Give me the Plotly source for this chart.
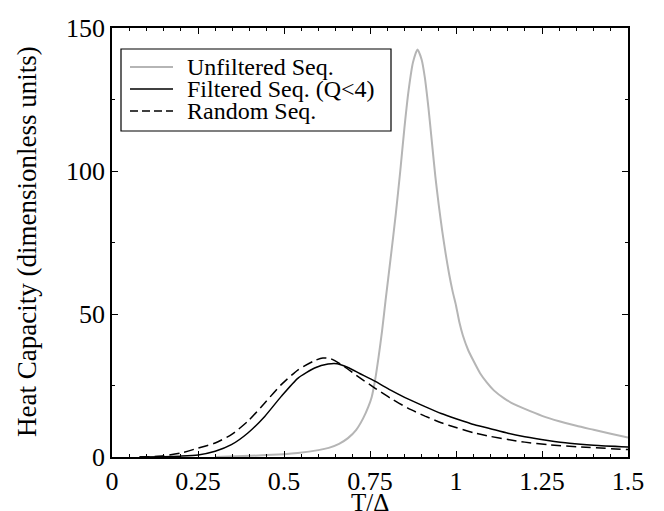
import plotly.graph_objects as go

# Unfiltered sequences (gray)
t_unf = [0.30, 0.40, 0.50, 0.54, 0.60, 0.63, 0.66, 0.686, 0.71, 0.73, 0.745, 0.755, 0.765,
         0.775, 0.785, 0.795, 0.81, 0.825, 0.838, 0.85, 0.862, 0.875, 0.888, 0.90, 0.909,
         0.92, 0.93, 0.94, 0.95, 0.96, 0.97, 0.98, 0.99, 1.00, 1.01, 1.02, 1.035, 1.05,
         1.07, 1.09, 1.11, 1.14, 1.17, 1.20, 1.25, 1.30, 1.35, 1.40, 1.45, 1.50]
c_unf = [0.0, 0.4, 1.0, 1.4, 2.4, 3.2, 4.6, 6.6, 9.5, 13.5, 17.5, 21.0, 27.0,
         35.0, 44.0, 54.5, 69.5, 85.0, 100.0, 115.0, 128.0, 138.0, 142.5, 139.0, 133.0,
         122.0, 110.0, 98.0, 88.0, 79.0, 71.0, 64.0, 58.0, 53.0, 47.0, 42.5, 37.5, 33.8,
         29.3, 26.0, 23.3, 20.5, 18.4, 16.8, 14.4, 12.5, 10.9, 9.5, 8.1, 6.8]

# Filtered sequences (Q<4), solid black
t_fil = [0.08, 0.15, 0.20, 0.25, 0.30, 0.347, 0.395, 0.444, 0.492, 0.541, 0.589, 0.628,
         0.655, 0.686, 0.72, 0.764, 0.81, 0.86, 0.91, 0.957, 1.0, 1.054, 1.10, 1.151,
         1.20, 1.267, 1.33, 1.40, 1.50]
c_fil = [0.0, 0.1, 0.3, 0.7, 2.0, 4.3, 8.4, 14.2, 21.2, 27.6, 31.1, 32.5,
         32.6, 31.3, 29.2, 26.5, 23.4, 20.3, 17.6, 15.2, 13.4, 11.3, 9.9, 8.3,
         7.1, 5.8, 4.8, 4.1, 3.5]

# Random sequences, dashed black
t_rnd = [0.08, 0.15, 0.20, 0.25, 0.30, 0.347, 0.395, 0.444, 0.492, 0.541, 0.589, 0.613,
         0.635, 0.667, 0.71, 0.764, 0.81, 0.86, 0.91, 0.957, 1.0, 1.054, 1.10, 1.151,
         1.20, 1.267, 1.364, 1.50]
c_rnd = [0.0, 0.4, 1.4, 3.1, 4.9, 7.8, 12.5, 18.9, 25.3, 30.5, 33.7, 34.6,
         34.4, 32.3, 28.6, 24.1, 20.5, 17.1, 14.3, 12.0, 10.3, 8.4, 7.2, 6.1,
         5.2, 4.3, 3.5, 2.6]

series_names = ["Unfiltered Seq.", "Filtered Seq. (Q<4)", "Random Seq."]

x_ticks = [0, 0.25, 0.5, 0.75, 1.0, 1.25, 1.5]
x_labels = ["0", "0.25", "0.5", "0.75", "1", "1.25", "1.5"]
y_ticks = [0, 50, 100, 150]
y_labels = ["0", "50", "100", "150"]

GRAY = "#b5b5b5"
styles = [dict(color=GRAY, width=2, dash="solid"),
          dict(color="black", width=1.5, dash="solid"),
          dict(color="black", width=1.5, dash="10px,5px")]

fig = go.Figure()
for (tx, cy), name, st in zip([(t_unf, c_unf), (t_fil, c_fil), (t_rnd, c_rnd)],
                              series_names, styles):
    fig.add_trace(go.Scatter(x=tx, y=cy, mode="lines", name=name, showlegend=False,
                             line=dict(color=st["color"], width=st["width"], dash=st["dash"],
                                       shape="spline", smoothing=0.6)))

font_family = "Liberation Serif, Times New Roman, serif"
axis_common = dict(
    automargin=False,
    showgrid=False, zeroline=False, showline=True, linecolor="black", linewidth=1.5,
    mirror="ticks", ticks="inside", ticklen=6, tickwidth=1.2, tickcolor="black",
    tickfont=dict(family=font_family, size=26, color="black"),
)

fig.update_xaxes(
    range=[0, 1.5], tickvals=x_ticks, ticktext=x_labels,
    minor=dict(dtick=0.05, tick0=0, ticks="inside", ticklen=3, tickwidth=1, tickcolor="black"),
    **axis_common,
)
fig.update_yaxes(
    range=[0, 150], tickvals=y_ticks, ticktext=y_labels,
    minor=dict(dtick=25, tick0=0, ticks="inside", ticklen=3, tickwidth=1, tickcolor="black"),
    **axis_common,
)

# Plot area in pixels: x 104..620, y 20..449
L, R, T, B = 104, 620, 20, 449
def px(x):
    return (x - L) / (R - L)
def py(y):
    return (B - y) / (B - T)

shapes = []
annotations = []
# legend box
shapes.append(dict(type="rect", xref="paper", yref="paper",
                   x0=px(113), x1=px(383), y0=py(123), y1=py(41),
                   line=dict(color="black", width=1.2), fillcolor="white", layer="above"))
entry_y = [59, 81, 103]
for yy, name, st in zip(entry_y, series_names, styles):
    shapes.append(dict(type="line", xref="paper", yref="paper",
                       x0=px(122), x1=px(165), y0=py(yy), y1=py(yy),
                       line=dict(color=st["color"], width=st["width"],
                                 dash=st["dash"] if st["dash"] == "solid" else "8px,4px"),
                       layer="above"))
    annotations.append(dict(text=name, xref="paper", yref="paper", x=px(177), y=py(yy),
                            xanchor="left", yanchor="middle", showarrow=False,
                            font=dict(family=font_family, size=24, color="black")))

# axis titles
annotations.append(dict(text="T/Δ", xref="paper", yref="paper", x=0.5, y=py(495),
                        xanchor="center", yanchor="middle", showarrow=False,
                        font=dict(family=font_family, size=25, color="black")))
annotations.append(dict(text="Heat Capacity (dimensionless units)", xref="paper", yref="paper",
                        x=px(19), y=py(234), xanchor="center", yanchor="middle",
                        textangle=-90, showarrow=False,
                        font=dict(family=font_family, size=27, color="black")))

fig.update_layout(
    width=664, height=511,
    margin=dict(l=L, r=664 - R, t=T, b=511 - B),
    paper_bgcolor="white", plot_bgcolor="white",
    showlegend=False,
    shapes=shapes,
    annotations=annotations,
)

fig.write_html("out.html")
